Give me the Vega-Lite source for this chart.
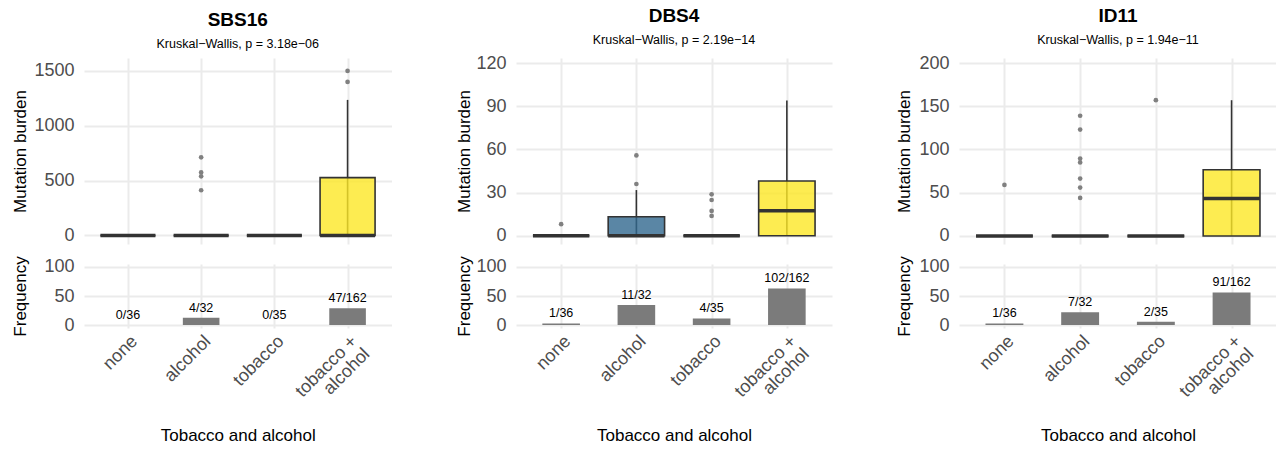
{
  "$schema": "https://vega.github.io/schema/vega-lite/v6.json",
  "padding": {"left": 10, "top": 6, "right": 0, "bottom": 0},
  "background": "white",
  "datasets": {
    "box": [
      {"sig": "SBS16", "group": "none", "lower": 0, "q1": 0, "median": 0, "q3": 0, "upper": 0},
      {"sig": "SBS16", "group": "alcohol", "lower": 0, "q1": 0, "median": 0, "q3": 0, "upper": 0},
      {"sig": "SBS16", "group": "tobacco", "lower": 0, "q1": 0, "median": 0, "q3": 0, "upper": 0},
      {"sig": "SBS16", "group": "tobacco + alcohol", "lower": 0, "q1": 0, "median": 0, "q3": 527, "upper": 1236},
      {"sig": "DBS4", "group": "none", "lower": 0, "q1": 0, "median": 0, "q3": 0, "upper": 0},
      {"sig": "DBS4", "group": "alcohol", "lower": 0, "q1": 0, "median": 0, "q3": 13.2, "upper": 31.8},
      {"sig": "DBS4", "group": "tobacco", "lower": 0, "q1": 0, "median": 0, "q3": 0, "upper": 0},
      {"sig": "DBS4", "group": "tobacco + alcohol", "lower": 0, "q1": 0, "median": 17.5, "q3": 38.1, "upper": 94},
      {"sig": "ID11", "group": "none", "lower": 0, "q1": 0, "median": 0, "q3": 0, "upper": 0},
      {"sig": "ID11", "group": "alcohol", "lower": 0, "q1": 0, "median": 0, "q3": 0, "upper": 0},
      {"sig": "ID11", "group": "tobacco", "lower": 0, "q1": 0, "median": 0, "q3": 0, "upper": 0},
      {"sig": "ID11", "group": "tobacco + alcohol", "lower": 0, "q1": 0, "median": 43.2, "q3": 76.5, "upper": 157}
    ],
    "outliers": [
      {"sig": "SBS16", "group": "alcohol", "value": 712},
      {"sig": "SBS16", "group": "alcohol", "value": 575},
      {"sig": "SBS16", "group": "alcohol", "value": 539},
      {"sig": "SBS16", "group": "alcohol", "value": 412},
      {"sig": "SBS16", "group": "tobacco + alcohol", "value": 1500},
      {"sig": "SBS16", "group": "tobacco + alcohol", "value": 1400},
      {"sig": "DBS4", "group": "none", "value": 8.1},
      {"sig": "DBS4", "group": "alcohol", "value": 36},
      {"sig": "DBS4", "group": "alcohol", "value": 55.9},
      {"sig": "DBS4", "group": "tobacco", "value": 28.8},
      {"sig": "DBS4", "group": "tobacco", "value": 24.9},
      {"sig": "DBS4", "group": "tobacco", "value": 17.3},
      {"sig": "DBS4", "group": "tobacco", "value": 13.8},
      {"sig": "ID11", "group": "none", "value": 59},
      {"sig": "ID11", "group": "alcohol", "value": 139},
      {"sig": "ID11", "group": "alcohol", "value": 123},
      {"sig": "ID11", "group": "alcohol", "value": 89.5},
      {"sig": "ID11", "group": "alcohol", "value": 85},
      {"sig": "ID11", "group": "alcohol", "value": 66.4},
      {"sig": "ID11", "group": "alcohol", "value": 56},
      {"sig": "ID11", "group": "alcohol", "value": 44},
      {"sig": "ID11", "group": "tobacco", "value": 157}
    ],
    "freq": [
      {"sig": "SBS16", "group": "none", "pct": 0, "label": "0/36"},
      {"sig": "SBS16", "group": "alcohol", "pct": 12.5, "label": "4/32"},
      {"sig": "SBS16", "group": "tobacco", "pct": 0, "label": "0/35"},
      {"sig": "SBS16", "group": "tobacco + alcohol", "pct": 29.0, "label": "47/162"},
      {"sig": "DBS4", "group": "none", "pct": 2.78, "label": "1/36"},
      {"sig": "DBS4", "group": "alcohol", "pct": 34.4, "label": "11/32"},
      {"sig": "DBS4", "group": "tobacco", "pct": 11.4, "label": "4/35"},
      {"sig": "DBS4", "group": "tobacco + alcohol", "pct": 63.0, "label": "102/162"},
      {"sig": "ID11", "group": "none", "pct": 2.78, "label": "1/36"},
      {"sig": "ID11", "group": "alcohol", "pct": 21.9, "label": "7/32"},
      {"sig": "ID11", "group": "tobacco", "pct": 5.71, "label": "2/35"},
      {"sig": "ID11", "group": "tobacco + alcohol", "pct": 56.2, "label": "91/162"}
    ]
  },
  "spacing": 62,
  "resolve": {"scale": {"x": "independent", "y": "independent", "fill": "independent"}},
  "hconcat": [
    {
      "spacing": 10,
      "resolve": {"scale": {"x": "independent", "y": "independent"}},
      "vconcat": [
        {
          "width": 307.5, "height": 186,
          "title": {"text": "SBS16", "subtitle": "Kruskal−Wallis, p = 3.18e−06"},
          "layer": [
            {"data": {"name": "box"}, "transform": [{"filter": "datum.sig == 'SBS16'"}],
             "mark": {"type": "rule", "color": "#333333", "strokeWidth": 1.6},
             "encoding": {
               "x": {"field": "group", "type": "nominal", "sort": null, "scale": {"type": "point", "padding": 0.6, "domain": ["none", "alcohol", "tobacco", "tobacco + alcohol"]}, "axis": {"labels": false, "title": null, "grid": true, "gridWidth": 2}},
               "y": {"field": "lower", "type": "quantitative", "title": "Mutation burden", "scale": {"domain": [-78, 1618], "nice": false, "zero": false}, "axis": {"values": [0, 250, 500, 750, 1000, 1250, 1500], "format": "d", "labelExpr": "datum.value % 500 == 0 ? datum.label : ''", "gridWidth": {"condition": {"test": "datum.value % 500 == 0", "value": 2}, "value": 1.2}, "titleX": -64}},
               "y2": {"field": "upper"}}},
            {"data": {"name": "box"}, "transform": [{"filter": "datum.sig == 'SBS16'"}],
             "mark": {"type": "bar", "size": 55, "stroke": "#333333", "strokeWidth": 1.6, "fillOpacity": 0.8},
             "encoding": {
               "x": {"field": "group", "type": "nominal", "sort": null},
               "y": {"field": "q1", "type": "quantitative", "title": "Mutation burden"},
               "y2": {"field": "q3"},
               "fill": {"field": "group", "type": "nominal", "legend": null, "scale": {"domain": ["none", "alcohol", "tobacco", "tobacco + alcohol"], "range": ["#440154", "#31688e", "#35b779", "#fde725"]}}}},
            {"data": {"name": "box"}, "transform": [{"filter": "datum.sig == 'SBS16'"}],
             "mark": {"type": "tick", "size": 55, "thickness": 3.5, "color": "#333333", "opacity": 1},
             "encoding": {
               "x": {"field": "group", "type": "nominal", "sort": null},
               "y": {"field": "median", "type": "quantitative", "title": "Mutation burden"}}},
            {"data": {"name": "outliers"}, "transform": [{"filter": "datum.sig == 'SBS16'"}],
             "mark": {"type": "circle", "size": 22, "color": "#808080", "opacity": 1},
             "encoding": {
               "x": {"field": "group", "type": "nominal", "sort": null},
               "y": {"field": "value", "type": "quantitative", "title": "Mutation burden"}}}
          ]
        },
        {
          "width": 307.5, "height": 64,
          "layer": [
            {"data": {"name": "freq"}, "transform": [{"filter": "datum.sig == 'SBS16'"}],
             "mark": {"type": "bar", "size": 36.6, "color": "#7b7b7b"},
             "encoding": {
               "x": {"field": "group", "type": "nominal", "sort": null, "scale": {"type": "point", "padding": 0.6, "domain": ["none", "alcohol", "tobacco", "tobacco + alcohol"]}, "axis": {"title": "Tobacco and alcohol", "grid": true, "gridWidth": 2, "labelAngle": -45, "labelAlign": "right", "labelBaseline": "top", "labelPadding": 4, "labelLineHeight": 18, "labelExpr": "datum.value == 'tobacco + alcohol' ? ['tobacco +', 'alcohol'] : datum.label", "titleY": 99, "titleBaseline": "top"}},
               "y": {"field": "pct", "type": "quantitative", "title": "Frequency", "scale": {"domain": [-5, 105], "nice": false, "zero": false}, "axis": {"values": [0, 50, 100], "format": "d", "labelOverlap": false, "gridWidth": 2, "titleX": -64}}}},
            {"data": {"name": "freq"}, "transform": [{"filter": "datum.sig == 'SBS16'"}],
             "mark": {"type": "text", "baseline": "alphabetic", "dy": -6, "fontSize": 12.5, "font": "Liberation Sans", "color": "black"},
             "encoding": {
               "x": {"field": "group", "type": "nominal", "sort": null},
               "y": {"field": "pct", "type": "quantitative", "title": "Frequency", "axis": {"values": [0, 50, 100], "format": "d", "labelOverlap": false, "gridWidth": 2, "titleX": -64}},
               "text": {"field": "label"}}}
          ]
        }
      ]
    },
    {
      "spacing": 10,
      "resolve": {"scale": {"x": "independent", "y": "independent"}},
      "vconcat": [
        {
          "width": 316, "height": 186,
          "title": {"text": "DBS4", "subtitle": "Kruskal−Wallis, p = 2.19e−14"},
          "layer": [
            {"data": {"name": "box"}, "transform": [{"filter": "datum.sig == 'DBS4'"}],
             "mark": {"type": "rule", "color": "#333333", "strokeWidth": 1.6},
             "encoding": {
               "x": {"field": "group", "type": "nominal", "sort": null, "scale": {"type": "point", "padding": 0.6, "domain": ["none", "alcohol", "tobacco", "tobacco + alcohol"]}, "axis": {"labels": false, "title": null, "grid": true, "gridWidth": 2}},
               "y": {"field": "lower", "type": "quantitative", "title": "Mutation burden", "scale": {"domain": [-5.7, 123.6], "nice": false, "zero": false}, "axis": {"values": [0, 15, 30, 45, 60, 75, 90, 105, 120], "format": "d", "labelExpr": "datum.value % 30 == 0 ? datum.label : ''", "gridWidth": {"condition": {"test": "datum.value % 30 == 0", "value": 2}, "value": 1.2}, "titleX": -52}},
               "y2": {"field": "upper"}}},
            {"data": {"name": "box"}, "transform": [{"filter": "datum.sig == 'DBS4'"}],
             "mark": {"type": "bar", "size": 56.4, "stroke": "#333333", "strokeWidth": 1.6, "fillOpacity": 0.8},
             "encoding": {
               "x": {"field": "group", "type": "nominal", "sort": null},
               "y": {"field": "q1", "type": "quantitative", "title": "Mutation burden"},
               "y2": {"field": "q3"},
               "fill": {"field": "group", "type": "nominal", "legend": null, "scale": {"domain": ["none", "alcohol", "tobacco", "tobacco + alcohol"], "range": ["#440154", "#31688e", "#35b779", "#fde725"]}}}},
            {"data": {"name": "box"}, "transform": [{"filter": "datum.sig == 'DBS4'"}],
             "mark": {"type": "tick", "size": 56.4, "thickness": 3.5, "color": "#333333", "opacity": 1},
             "encoding": {
               "x": {"field": "group", "type": "nominal", "sort": null},
               "y": {"field": "median", "type": "quantitative", "title": "Mutation burden"}}},
            {"data": {"name": "outliers"}, "transform": [{"filter": "datum.sig == 'DBS4'"}],
             "mark": {"type": "circle", "size": 22, "color": "#808080", "opacity": 1},
             "encoding": {
               "x": {"field": "group", "type": "nominal", "sort": null},
               "y": {"field": "value", "type": "quantitative", "title": "Mutation burden"}}}
          ]
        },
        {
          "width": 316, "height": 64,
          "layer": [
            {"data": {"name": "freq"}, "transform": [{"filter": "datum.sig == 'DBS4'"}],
             "mark": {"type": "bar", "size": 37.6, "color": "#7b7b7b"},
             "encoding": {
               "x": {"field": "group", "type": "nominal", "sort": null, "scale": {"type": "point", "padding": 0.6, "domain": ["none", "alcohol", "tobacco", "tobacco + alcohol"]}, "axis": {"title": "Tobacco and alcohol", "grid": true, "gridWidth": 2, "labelAngle": -45, "labelAlign": "right", "labelBaseline": "top", "labelPadding": 4, "labelLineHeight": 18, "labelExpr": "datum.value == 'tobacco + alcohol' ? ['tobacco +', 'alcohol'] : datum.label", "titleY": 99, "titleBaseline": "top"}},
               "y": {"field": "pct", "type": "quantitative", "title": "Frequency", "scale": {"domain": [-5, 105], "nice": false, "zero": false}, "axis": {"values": [0, 50, 100], "format": "d", "labelOverlap": false, "gridWidth": 2, "titleX": -52}}}},
            {"data": {"name": "freq"}, "transform": [{"filter": "datum.sig == 'DBS4'"}],
             "mark": {"type": "text", "baseline": "alphabetic", "dy": -6, "fontSize": 12.5, "font": "Liberation Sans", "color": "black"},
             "encoding": {
               "x": {"field": "group", "type": "nominal", "sort": null},
               "y": {"field": "pct", "type": "quantitative", "title": "Frequency", "axis": {"values": [0, 50, 100], "format": "d", "labelOverlap": false, "gridWidth": 2, "titleX": -52}},
               "text": {"field": "label"}}}
          ]
        }
      ]
    },
    {
      "spacing": 10,
      "resolve": {"scale": {"x": "independent", "y": "independent"}},
      "vconcat": [
        {
          "width": 318, "height": 186,
          "title": {"text": "ID11", "subtitle": "Kruskal−Wallis, p = 1.94e−11"},
          "layer": [
            {"data": {"name": "box"}, "transform": [{"filter": "datum.sig == 'ID11'"}],
             "mark": {"type": "rule", "color": "#333333", "strokeWidth": 1.6},
             "encoding": {
               "x": {"field": "group", "type": "nominal", "sort": null, "scale": {"type": "point", "padding": 0.6, "domain": ["none", "alcohol", "tobacco", "tobacco + alcohol"]}, "axis": {"labels": false, "title": null, "grid": true, "gridWidth": 2}},
               "y": {"field": "lower", "type": "quantitative", "title": "Mutation burden", "scale": {"domain": [-9.3, 205.8], "nice": false, "zero": false}, "axis": {"values": [0, 25, 50, 75, 100, 125, 150, 175, 200], "format": "d", "labelExpr": "datum.value % 50 == 0 ? datum.label : ''", "gridWidth": {"condition": {"test": "datum.value % 50 == 0", "value": 2}, "value": 1.2}, "titleX": -55}},
               "y2": {"field": "upper"}}},
            {"data": {"name": "box"}, "transform": [{"filter": "datum.sig == 'ID11'"}],
             "mark": {"type": "bar", "size": 56.8, "stroke": "#333333", "strokeWidth": 1.6, "fillOpacity": 0.8},
             "encoding": {
               "x": {"field": "group", "type": "nominal", "sort": null},
               "y": {"field": "q1", "type": "quantitative", "title": "Mutation burden"},
               "y2": {"field": "q3"},
               "fill": {"field": "group", "type": "nominal", "legend": null, "scale": {"domain": ["none", "alcohol", "tobacco", "tobacco + alcohol"], "range": ["#440154", "#31688e", "#35b779", "#fde725"]}}}},
            {"data": {"name": "box"}, "transform": [{"filter": "datum.sig == 'ID11'"}],
             "mark": {"type": "tick", "size": 56.8, "thickness": 3.5, "color": "#333333", "opacity": 1},
             "encoding": {
               "x": {"field": "group", "type": "nominal", "sort": null},
               "y": {"field": "median", "type": "quantitative", "title": "Mutation burden"}}},
            {"data": {"name": "outliers"}, "transform": [{"filter": "datum.sig == 'ID11'"}],
             "mark": {"type": "circle", "size": 22, "color": "#808080", "opacity": 1},
             "encoding": {
               "x": {"field": "group", "type": "nominal", "sort": null},
               "y": {"field": "value", "type": "quantitative", "title": "Mutation burden"}}}
          ]
        },
        {
          "width": 318, "height": 64,
          "layer": [
            {"data": {"name": "freq"}, "transform": [{"filter": "datum.sig == 'ID11'"}],
             "mark": {"type": "bar", "size": 37.9, "color": "#7b7b7b"},
             "encoding": {
               "x": {"field": "group", "type": "nominal", "sort": null, "scale": {"type": "point", "padding": 0.6, "domain": ["none", "alcohol", "tobacco", "tobacco + alcohol"]}, "axis": {"title": "Tobacco and alcohol", "grid": true, "gridWidth": 2, "labelAngle": -45, "labelAlign": "right", "labelBaseline": "top", "labelPadding": 4, "labelLineHeight": 18, "labelExpr": "datum.value == 'tobacco + alcohol' ? ['tobacco +', 'alcohol'] : datum.label", "titleY": 99, "titleBaseline": "top"}},
               "y": {"field": "pct", "type": "quantitative", "title": "Frequency", "scale": {"domain": [-5, 105], "nice": false, "zero": false}, "axis": {"values": [0, 50, 100], "format": "d", "labelOverlap": false, "gridWidth": 2, "titleX": -55}}}},
            {"data": {"name": "freq"}, "transform": [{"filter": "datum.sig == 'ID11'"}],
             "mark": {"type": "text", "baseline": "alphabetic", "dy": -6, "fontSize": 12.5, "font": "Liberation Sans", "color": "black"},
             "encoding": {
               "x": {"field": "group", "type": "nominal", "sort": null},
               "y": {"field": "pct", "type": "quantitative", "title": "Frequency", "axis": {"values": [0, 50, 100], "format": "d", "labelOverlap": false, "gridWidth": 2, "titleX": -55}},
               "text": {"field": "label"}}}
          ]
        }
      ]
    }
  ],
  "config": {
    "font": "Liberation Sans",
    "view": {"stroke": null},
    "axis": {
      "labelFont": "Liberation Sans", "labelFontSize": 18, "labelColor": "#4d4d4d",
      "titleFont": "Liberation Sans", "titleFontSize": 17, "titleFontWeight": "normal", "titleColor": "black",
      "gridColor": "#ebebeb", "gridWidth": 1, "domain": false, "ticks": false,
      "labelOverlap": false, "labelBound": false, "labelFlush": false
    },
    "axisY": {"labelPadding": 10, "titleBaseline": "middle"},
    "title": {
      "font": "Liberation Sans", "fontSize": 19, "fontWeight": "bold", "color": "black",
      "subtitleFont": "Liberation Sans", "subtitleFontSize": 12.5, "subtitleColor": "black",
      "anchor": "middle", "frame": "group", "offset": 8, "subtitlePadding": 8
    }
  }
}
